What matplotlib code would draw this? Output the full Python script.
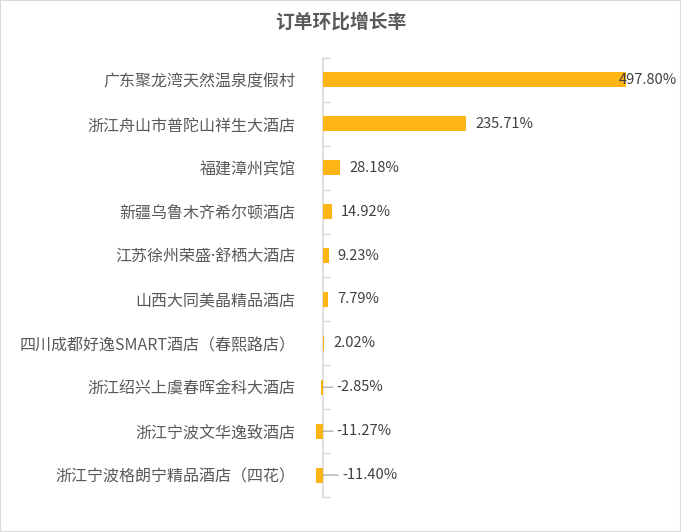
import matplotlib.pyplot as plt
from matplotlib.patches import Rectangle

plt.rcParams['font.family'] = ['Noto Sans CJK SC', 'DejaVu Sans']

# 数据
hotels = [
    '广东聚龙湾天然温泉度假村',
    '浙江舟山市普陀山祥生大酒店',
    '福建漳州宾馆',
    '新疆乌鲁木齐希尔顿酒店',
    '江苏徐州荣盛·舒栖大酒店',
    '山西大同美晶精品酒店',
    '四川成都好逸SMART酒店（春熙路店）',
    '浙江绍兴上虞春晖金科大酒店',
    '浙江宁波文华逸致酒店',
    '浙江宁波格朗宁精品酒店（四花）',
]
growth = [497.80, 235.71, 28.18, 14.92, 9.23, 7.79, 2.02, -2.85, -11.27, -11.40]

bar_color = '#FDB515'
text_color = '#595959'
axis_color = '#D9D9D9'

fig = plt.figure(figsize=(6.81, 5.32), dpi=100)
ax = fig.add_axes([0.4564, 0.0658, 0.5185, 0.8252])

y = list(range(len(hotels)))
ax.barh(y, growth, height=0.34, color=bar_color, zorder=3)

ax.set_xlim(-20, 560)
ax.set_ylim(len(hotels) - 0.5, -0.5)

# 数据标签
xmax_label = 470
for yi, v in zip(y, growth):
    txt = f'{v:.2f}%'
    if v >= 0:
        off = -5 if v > xmax_label else 6.5
        ax.annotate(txt, xy=(v, yi), xytext=(off, 0), textcoords='offset points',
                    ha='left', va='center', fontsize=10.5, color='#404040', zorder=4)
    else:
        off = 14 if v < -11.3 else 10
        ax.annotate(txt, xy=(0, yi), xytext=(off, 0), textcoords='offset points',
                    ha='left', va='center', fontsize=10.5, color='#404040',
                    arrowprops=dict(arrowstyle='-', color='#A6A6A6', lw=0.9,
                                    shrinkA=1, shrinkB=0))

# 坐标轴 (tick_params 先设, 否则会重置标签字号)
ax.tick_params(axis='y', which='major', length=0, pad=20,
               labelsize=11.5, labelcolor=text_color)
ax.set_yticks(y)
ax.set_yticklabels(hotels)
ax.set_yticks([i + 0.5 for i in range(-1, len(hotels))], minor=True)
ax.tick_params(axis='y', which='minor', direction='in', length=5,
               color=axis_color, width=1)
ax.set_xticks([])
for s in ['top', 'right', 'bottom']:
    ax.spines[s].set_visible(False)
ax.spines['left'].set_position(('data', 0))
ax.spines['left'].set_color(axis_color)
ax.spines['left'].set_linewidth(1.2)

# 半角间隔号
for lab in ax.get_yticklabels():
    if '·' in lab.get_text():
        lab.set_fontfamily(['Noto Sans', 'Noto Sans CJK SC'])

fig.suptitle('订单环比增长率', x=0.5, y=0.959, va='center', fontsize=13.5,
             fontweight='bold', color=text_color)

fig.patches.append(Rectangle((0, 0), 1, 1, transform=fig.transFigure, fill=False,
                             edgecolor=axis_color, lw=1.5))

fig.savefig('out.png', dpi=100)
